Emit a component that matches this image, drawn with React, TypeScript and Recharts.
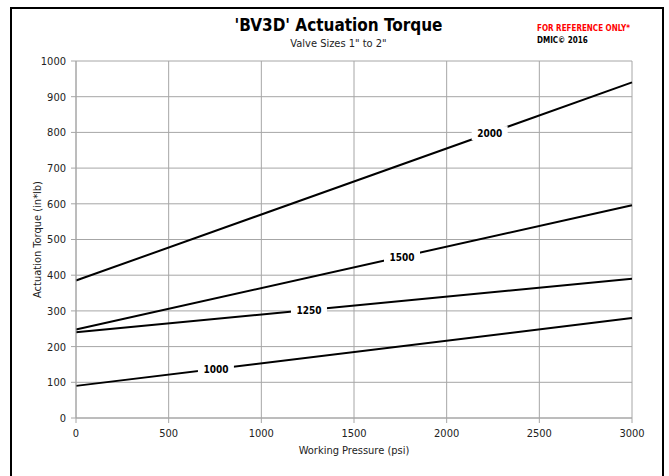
import { LineChart, Line, XAxis, YAxis, CartesianGrid, ReferenceDot, Label } from "recharts";

// (working pressure psi -> torque in*lb)
const pressure = [0, 3000];
const torque1000 = [90, 280];
const torque1250 = [240, 390];
const torque1500 = [248, 596];
const torque2000 = [385, 940];

const seriesNames = ["1000", "1250", "1500", "2000"];
const seriesValues = [torque1000, torque1250, torque1500, torque2000];

// where the inline series labels sit (psi, in*lb)
const labelX = [755, 1257, 1759, 2232];
const labelY = [138, 303, 452, 798];

const xTicks = [0, 500, 1000, 1500, 2000, 2500, 3000];
const yTicks = [0, 100, 200, 300, 400, 500, 600, 700, 800, 900, 1000];

const FONT = "'Liberation Sans Narrow', 'DejaVu Sans Condensed', 'Liberation Sans', sans-serif";

const data = pressure.map((p, i) => {
  const row: Record<string, number> = { pressure: p };
  seriesNames.forEach((name, s) => {
    row["s" + name] = seriesValues[s][i];
  });
  return row;
});

function LineTag(props: any) {
  const { cx, cy, text } = props;
  return (
    <g>
      <rect x={cx - 18} y={cy - 7} width={36} height={14} fill="#fff" />
      <text
        x={cx}
        y={cy + 4}
        textAnchor="middle"
        fontFamily={FONT}
        fontSize={10}
        fontWeight="bold"
        fill="#000"
      >
        {text}
      </text>
    </g>
  );
}

export default function App() {
  return (
    <div style={{ position: "absolute", left: 0, top: 0, width: 669, height: 476, overflow: "hidden", background: "#fff" }}>
      <div
        style={{
          position: "absolute",
          left: 10,
          top: 7,
          width: 650,
          height: 490,
          border: "2px solid #000",
        }}
      />
      <div style={{ position: "absolute", left: 0, top: 0 }}>
        <LineChart
          width={669}
          height={476}
          data={data}
          margin={{ top: 61, right: 37, bottom: 28, left: 0 }}
        >
          <CartesianGrid stroke="#a6a6a6" strokeWidth={1} />
          <XAxis
            dataKey="pressure"
            type="number"
            domain={[0, 3000]}
            ticks={xTicks}
            height={30}
            stroke="#a6a6a6"
            tickSize={5}
            tick={{ fill: "#222", fontSize: 11, fontFamily: FONT }}
            tickMargin={6}
          >
            <Label
              value="Working Pressure (psi)"
              position="insideBottom"
              offset={-6}
              style={{ fill: "#222", fontSize: 11, fontFamily: FONT }}
            />
          </XAxis>
          <YAxis
            type="number"
            domain={[0, 1000]}
            ticks={yTicks}
            width={76}
            stroke="#a6a6a6"
            tickSize={5}
            tickMargin={5}
            tick={{ fill: "#222", fontSize: 11, fontFamily: FONT }}
          >
            <Label
              value="Actuation Torque (in*lb)"
              angle={-90}
              position="insideLeft"
              offset={37}
              style={{ fill: "#222", fontSize: 11, fontFamily: FONT, textAnchor: "middle" }}
            />
          </YAxis>
          {seriesNames.map((name) => (
            <Line
              key={name}
              dataKey={"s" + name}
              stroke="#000"
              strokeWidth={2}
              dot={false}
              isAnimationActive={false}
            />
          ))}
          {seriesNames.map((name, i) => (
            <ReferenceDot
              key={"tag" + name}
              x={labelX[i]}
              y={labelY[i]}
              r={0}
              shape={(p: any) => <LineTag {...p} text={name} />}
            />
          ))}
        </LineChart>
      </div>
      <div
        style={{
          position: "absolute",
          left: 0,
          width: 677,
          top: 15,
          textAlign: "center",
          fontFamily: FONT,
          fontWeight: "bold",
          fontSize: 17,
          color: "#000",
        }}
      >
        'BV3D' Actuation Torque
      </div>
      <div
        style={{
          position: "absolute",
          left: 0,
          width: 677,
          top: 37,
          textAlign: "center",
          fontFamily: FONT,
          fontSize: 11,
          color: "#222",
        }}
      >
        Valve Sizes 1" to 2"
      </div>
      <div
        style={{
          position: "absolute",
          left: 537,
          top: 24,
          fontFamily: FONT,
          fontWeight: "bold",
          fontSize: 8,
          color: "#ff0000",
        }}
      >
        FOR REFERENCE ONLY*
      </div>
      <div
        style={{
          position: "absolute",
          left: 537,
          top: 36,
          fontFamily: FONT,
          fontWeight: "bold",
          fontSize: 8,
          color: "#000",
        }}
      >
        DMIC© 2016
      </div>
    </div>
  );
}
